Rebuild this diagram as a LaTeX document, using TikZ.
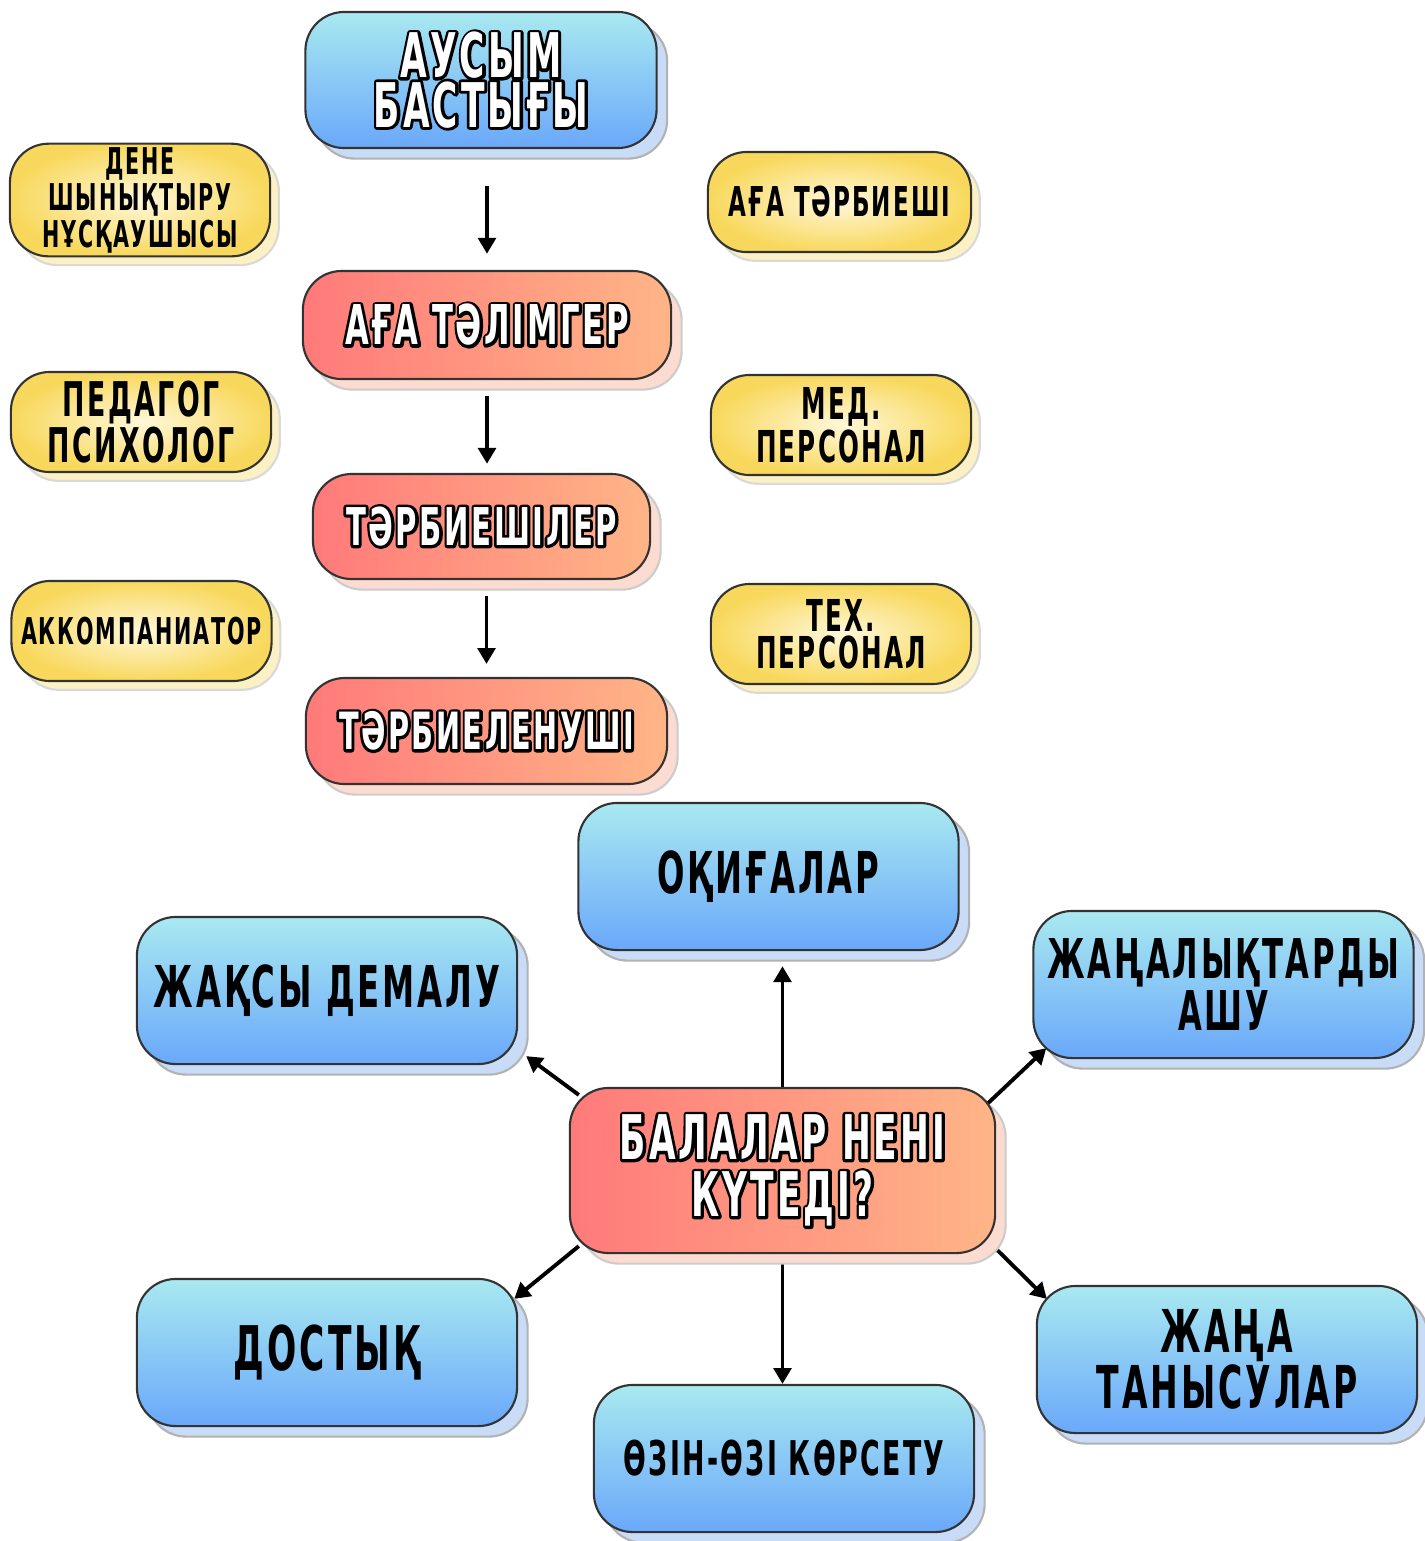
\documentclass[tikz,border=0pt]{standalone}
\usepackage{fontspec}
\setmainfont{DejaVu Sans}[FakeStretch=0.56, LetterSpace=5]
\usetikzlibrary{arrows.meta}
\usetikzlibrary{shadows}
\usetikzlibrary{backgrounds}

\definecolor{bluetop}{HTML}{A9E9F0}
\definecolor{bluebot}{HTML}{6AA8FA}
\definecolor{blueshade}{HTML}{C8DCF8}
\definecolor{redleft}{HTML}{FF7A7A}
\definecolor{redright}{HTML}{FFB587}
\definecolor{redshade}{HTML}{FCDCD0}
\definecolor{yellowin}{HTML}{FFF8DA}
\definecolor{yellowout}{HTML}{F8D85C}
\definecolor{yellowshade}{HTML}{FBF1C4}

% white letters with a black rim: stroked copy under the filled one
\newcommand{\outl}[1]{\rlap{\special{pdf:literal direct 1 Tr 1.6 w 0 G 1 j}#1\special{pdf:literal direct 0 Tr 0 j}}#1}

\begin{document}
\begin{tikzpicture}[
    x=0.01cm, y=-0.01cm,
    box/.style={draw=black!80, line width=0.6pt, rounded corners=11pt, align=center, inner sep=1pt},
    bluebox/.style={box, top color=bluetop, bottom color=bluebot,
        general shadow={shadow xshift=3pt, shadow yshift=-3pt, fill=blueshade, draw=black!30}},
    redbox/.style={box, left color=redleft, right color=redright, text=white,
        general shadow={shadow xshift=3pt, shadow yshift=-3pt, fill=redshade, draw=black!20}},
    yellowbox/.style={box, inner color=yellowin, outer color=yellowout,
        minimum width=2.6cm, minimum height=1cm,
        general shadow={shadow xshift=2.5pt, shadow yshift=-2.5pt, fill=yellowshade, draw=black!15}},
    bigbox/.style={bluebox, minimum width=3.8cm, minimum height=1.47cm},
    arr/.style={-{Triangle[length=4.5pt,width=5pt]}, line width=1.1pt}
]
    \useasboundingbox (0,0) rectangle (1425,1541);

    % staff column
    \node[bluebox, text=white, minimum width=3.51cm, minimum height=1.36cm,
          font=\bfseries\fontsize{17.5}{14}\selectfont] (chief) at (481,80)
          {\outl{АУСЫМ}\\\outl{БАСТЫҒЫ}};
    \node[redbox, minimum width=3.68cm, minimum height=1.08cm,
          font=\bfseries\fontsize{15.6}{15}\selectfont] (mentor) at (487,325)
          {\outl{АҒА ТӘЛІМГЕР}};
    \node[redbox, minimum width=3.37cm, minimum height=1.05cm,
          font=\bfseries\fontsize{14.8}{15}\selectfont] (educators) at (481.5,526.5)
          {\outl{ТӘРБИЕШІЛЕР}};
    \node[redbox, minimum width=3.61cm, minimum height=1.06cm,
          font=\bfseries\fontsize{14.6}{15}\selectfont] (pupil) at (486.5,731)
          {\outl{ТӘРБИЕЛЕНУШІ}};

    % side staff
    \node[yellowbox, font=\bfseries\fontsize{10.5}{8.6}\selectfont] (coach) at (140,200)
          {ДЕНЕ\\ШЫНЫҚТЫРУ\\НҰСҚАУШЫСЫ};
    \node[yellowbox, font=\bfseries\fontsize{13.6}{11.4}\selectfont] (psych) at (141,422)
          {ПЕДАГОГ\\ПСИХОЛОГ};
    \node[yellowbox, font=\bfseries\fontsize{10.5}{10}\selectfont] (pianist) at (141.5,631)
          {АККОМПАНИАТОР};
    \node[yellowbox, minimum width=2.63cm, font=\bfseries\fontsize{11.7}{11}\selectfont] (senior) at (839.5,202)
          {АҒА ТӘРБИЕШІ};
    \node[yellowbox, font=\bfseries\fontsize{12.5}{10.5}\selectfont] (medic) at (841,425)
          {МЕД.\\ПЕРСОНАЛ};
    \node[yellowbox, font=\bfseries\fontsize{12.5}{10.5}\selectfont] (techs) at (841,634)
          {ТЕХ.\\ПЕРСОНАЛ};

    % expectations
    \node[redbox, minimum width=4.25cm, minimum height=1.65cm,
          font=\bfseries\fontsize{17.5}{16.2}\selectfont] (hub) at (782.5,1170.5)
          {\outl{БАЛАЛАР НЕНІ}\\\outl{КҮТЕДІ?}};
    \node[bigbox, font=\bfseries\fontsize{16.4}{15}\selectfont] (events) at (768.5,876.5) {ОҚИҒАЛАР};
    \node[bigbox, font=\bfseries\fontsize{16.4}{15}\selectfont] (relax) at (327,990.5) {ЖАҚСЫ ДЕМАЛУ};
    \node[bigbox, font=\bfseries\fontsize{15.6}{10.8}\selectfont] (news) at (1223.5,984.5) {ЖАҢАЛЫҚТАРДЫ\\АШУ};
    \node[bigbox, font=\bfseries\fontsize{17.5}{15}\selectfont] (friends) at (327,1352.5) {ДОСТЫҚ};
    \node[bigbox, font=\bfseries\fontsize{13.6}{13}\selectfont] (selfshow) at (784,1458.5) {ӨЗІН-ӨЗІ КӨРСЕТУ};
    \node[bigbox, font=\bfseries\fontsize{16.8}{12.8}\selectfont] (meet) at (1227,1359.5) {ЖАҢА\\ТАНЫСУЛАР};

    % chain of command
    \draw[arr, shorten <=10.5pt, shorten >=4.6pt] (chief.south -| mentor.north) -- (mentor.north);
    \draw[arr, shorten <=4.6pt, shorten >=2.6pt] (mentor.south) -- (mentor.south |- educators.north);
    \draw[arr, shorten <=4.6pt, shorten >=3.7pt] (educators.south -| pupil.north) -- (pupil.north);

    % spokes behind the hub
    \begin{scope}[on background layer]
        \fill[white] (0,0) rectangle (1425,1541);
        \draw[arr, shorten >=4.3pt] (hub.north) -- (hub.north |- events.south);
        \draw[arr] ([shift={(10,8)}]hub.north west) -- ([shift={(8,-9)}]relax.south east);
        \draw[arr] ([shift={(-10,18)}]hub.north east) -- ([shift={(14,-11)}]news.south west);
        \draw[arr] ([shift={(10,-8)}]hub.south west) -- ([shift={(-4,21)}]friends.north east);
        \draw[arr] (hub.south) -- (hub.south |- selfshow.north);
        \draw[arr] ([shift={(-10,-15)}]hub.south east) -- ([shift={(11,14)}]meet.north west);
    \end{scope}

\end{tikzpicture}
\end{document}
